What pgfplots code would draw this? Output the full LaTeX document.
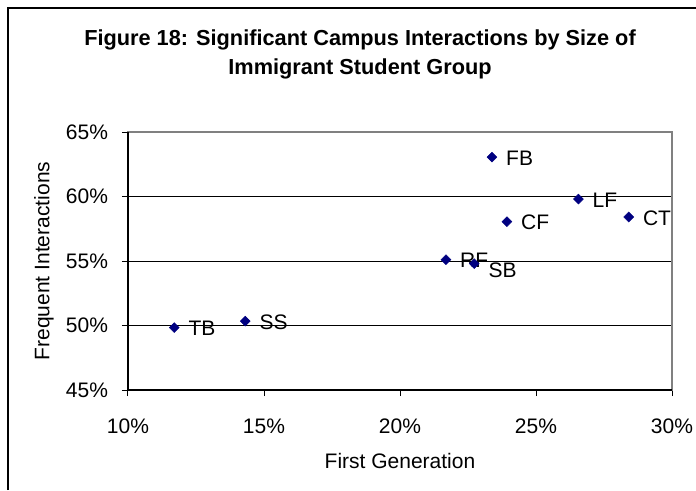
\documentclass[border=0pt]{standalone}
\usepackage{pgfplots}
\pgfplotsset{compat=1.18}
\usepackage{fontspec}
\setmainfont{Liberation Sans}
\definecolor{navy}{HTML}{000080}
\begin{document}
\begin{tikzpicture}[x=0.75pt,y=0.75pt]
\useasboundingbox (0,0) rectangle (696,490);
\draw[line width=0.9pt] (8,0) -- (8,482) -- (696,482);
\node[font=\fontsize{16.3}{20}\selectfont\bfseries, anchor=base] at (360,444) {Figure 18: Significant Campus Interactions by Size of};
\node[font=\fontsize{16.3}{20}\selectfont\bfseries, anchor=base] at (360,415) {Immigrant Student Group};
\begin{axis}[
  at={(96pt,75pt)}, anchor=south west,
  width=408pt, height=193.5pt, scale only axis,
  xmin=10, xmax=30, ymin=45, ymax=65,
  xtick={10,15,20,25,30}, xticklabels={10\%,15\%,20\%,25\%,30\%},
  ytick={45,50,55,60,65}, yticklabels={45\%,50\%,55\%,60\%,65\%},
  tick pos=left, tick align=outside, major tick length=4.5pt,
  tick style={black, line width=0.75pt},
  ymajorgrids, grid style={black, line width=0.75pt},
  axis line style={draw=gray, line width=0.9pt},
  ticklabel style={font=\fontsize{15.75}{18}\selectfont},
  xticklabel style={yshift=-13.5pt},
  yticklabel style={xshift=-7pt},
  xlabel={First Generation}, ylabel={Frequent Interactions},
  label style={font=\fontsize{15.75}{18}\selectfont},
  xlabel style={at={(axis description cs:0.5,0)}, anchor=center, yshift=-53pt},
  ylabel style={at={(axis description cs:0,0.5)}, anchor=center, yshift=63pt},
  clip=false,
  nodes near coords, point meta=explicit symbolic,
  every node near coord/.append style={font=\fontsize{15.75}{18}\selectfont, anchor=west, inner sep=0pt, xshift=10.5pt, yshift=-0.75pt},
]
\addplot[only marks, mark=square*, mark size=2.6pt, mark options={rotate=45, fill=navy, draw=navy}] table[meta=label] {
x y label
11.70 49.84 TB
14.31 50.34 SS
21.69 55.10 RF
23.38 63.05 FB
23.93 58.05 CF
26.56 59.80 LF
28.41 58.41 CT
};
\addplot[only marks, mark=square*, mark size=2.6pt, mark options={rotate=45, fill=navy, draw=navy},
  every node near coord/.append style={yshift=-4.5pt}] table[meta=label] {
x y label
22.73 54.79 SB
};
\draw[black, line width=0.9pt] (rel axis cs:0,1) -- (rel axis cs:0,0) -- (rel axis cs:1,0);
\end{axis}
\end{tikzpicture}
\end{document}
